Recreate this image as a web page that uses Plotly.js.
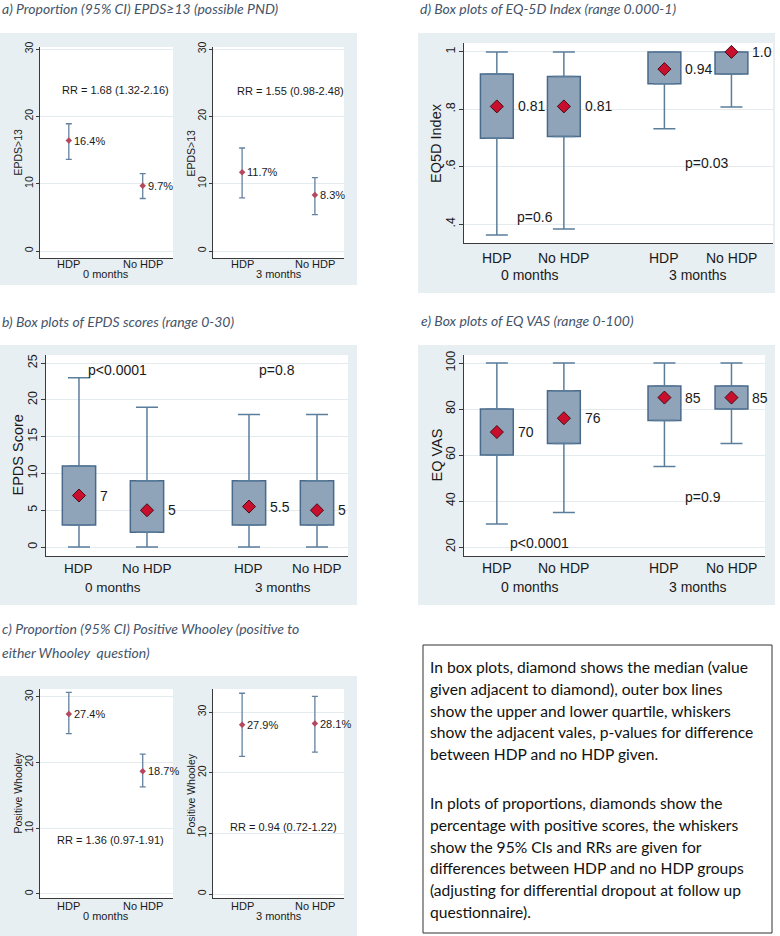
<!DOCTYPE html>
<html><head><meta charset="utf-8">
<script src="https://cdn.plot.ly/plotly-3.0.1.min.js"></script>
<style>html,body{margin:0;padding:0;background:#fff}#chart{width:780px;height:936px}</style>
</head><body><div id="chart"></div><script>
// ---------------- DATA ----------------
const groups = ['HDP', 'No HDP'];
const periods = ['0 months', '3 months'];

// a) Proportion EPDS>=13
const epds13_0m = [16.4, 9.7];
const epds13_0m_lo = [13.6, 7.8];
const epds13_0m_hi = [18.9, 11.5];
const epds13_3m = [11.7, 8.3];
const epds13_3m_lo = [7.9, 5.4];
const epds13_3m_hi = [15.3, 10.9];
const rr_epds13 = ['RR = 1.68 (1.32-2.16)', 'RR = 1.55 (0.98-2.48)'];

// c) Proportion positive Whooley
const whooley_0m = [27.4, 18.7];
const whooley_0m_lo = [24.4, 16.3];
const whooley_0m_hi = [30.7, 21.3];
const whooley_3m = [27.9, 28.1];
const whooley_3m_lo = [22.7, 23.4];
const whooley_3m_hi = [33.1, 32.6];
const rr_whooley = ['RR = 1.36 (0.97-1.91)', 'RR = 0.94 (0.72-1.22)'];

// box plots: order HDP 0m, No HDP 0m, HDP 3m, No HDP 3m
const boxGroups = ['HDP', 'No HDP', 'HDP', 'No HDP'];
const epds_min = [0, 0, 0, 0];
const epds_q1 = [3, 2, 3, 3];
const epds_med = [7, 5, 5.5, 5];
const epds_q3 = [11, 9, 9, 9];
const epds_max = [23, 19, 18, 18];
const epds_lbl = ['7', '5', '5.5', '5'];
const p_epds = ['p<0.0001', 'p=0.8'];

const eq5d_min = [0.362, 0.383, 0.732, 0.808];
const eq5d_q1 = [0.699, 0.705, 0.889, 0.923];
const eq5d_med = [0.81, 0.81, 0.94, 1.0];
const eq5d_q3 = [0.923, 0.914, 1.0, 1.0];
const eq5d_max = [1.0, 1.0, 1.0, 1.0];
const eq5d_lbl = ['0.81', '0.81', '0.94', '1.0'];
const p_eq5d = ['p=0.6', 'p=0.03'];

const vas_min = [30, 35, 55, 65];
const vas_q1 = [60, 65, 75, 80];
const vas_med = [70, 76, 85, 85];
const vas_q3 = [80, 88, 90, 90];
const vas_max = [100, 100, 100, 100];
const vas_lbl = ['70', '76', '85', '85'];
const p_vas = ['p<0.0001', 'p=0.9'];

const titles = {
  a: 'a) Proportion (95% CI) EPDS\u226513 (possible PND)',
  b: 'b) Box plots of EPDS scores (range 0-30)',
  c1: 'c) Proportion (95% CI) Positive Whooley (positive to',
  c2: 'either Whooley  question)',
  d: 'd) Box plots of EQ-5D Index (range 0.000-1)',
  e: 'e) Box plots of EQ VAS (range 0-100)'
};
const noteLines1 = [
  'In box plots, diamond shows the median (value',
  'given adjacent to diamond), outer box lines',
  'show the upper and lower quartile, whiskers',
  'show the adjacent vales, p-values for difference',
  'between HDP and no HDP given.'
];
const noteLines2 = [
  'In plots of proportions, diamonds show the',
  'percentage with positive scores, the whiskers',
  'show the 95% CIs and RRs are given for',
  'differences between HDP and no HDP groups',
  '(adjusting for differential dropout at follow up',
  'questionnaire).'
];

// ---------------- LAYOUT HELPERS ----------------
const W = 780, H = 936;
const F = 'Liberation Sans, Arial, sans-serif';
const TF = 'Lato, Calibri, sans-serif';
const TXT = '#1a1a1a';
const BG = '#e8eff2';
const GRID = '#e3ebef';
const px = v => v / W;
const py = v => 1 - v / H;

const traces = [];
const annotations = [];
const shapes = [];
const layout = {
  width: W, height: H, margin: {l: 0, r: 0, t: 0, b: 0},
  paper_bgcolor: '#ffffff', plot_bgcolor: '#ffffff',
  showlegend: false, hovermode: false, font: {family: F, color: TXT}
};

function bgRect(x0, x1, y0, y1, color) {
  shapes.push({type: 'rect', xref: 'paper', yref: 'paper', layer: 'below',
    x0: px(x0), x1: px(x1), y0: py(y1), y1: py(y0),
    fillcolor: color, line: {width: 0}});
}

function setupAxes(n, spec, xs, names) {
  const xk = n === 1 ? 'xaxis' : 'xaxis' + n;
  const yk = n === 1 ? 'yaxis' : 'yaxis' + n;
  const xa = n === 1 ? 'x' : 'x' + n, ya = n === 1 ? 'y' : 'y' + n;
  bgRect(spec.x[0], spec.x[1], spec.y[0], spec.y[1], '#ffffff');
  layout[xk] = {
    domain: [px(spec.x[0]), px(spec.x[1])], range: spec.xr, anchor: ya,
    showline: true, linecolor: '#3a3a3a', linewidth: 1, mirror: false,
    ticks: '', showgrid: false, zeroline: false, fixedrange: true,
    showticklabels: false, automargin: false
  };
  layout[yk] = {
    domain: [py(spec.y[1]), py(spec.y[0])], range: spec.yr, anchor: xa,
    showline: true, linecolor: '#3a3a3a', linewidth: 1, mirror: false,
    ticks: 'outside', ticklen: spec.tl, tickcolor: '#3a3a3a', tickangle: -90,
    ticklabelstandoff: -1,
    showgrid: true, gridcolor: GRID, gridwidth: 1, zeroline: false, fixedrange: true,
    tickvals: spec.ytv, ticktext: spec.ytt,
    tickfont: {family: F, size: spec.yfs, color: TXT}, automargin: false
  };
  // category labels under the x axis
  names.forEach((g, i) => annotations.push({
    xref: xa, yref: ya + ' domain', x: xs[i], y: 0, text: g, showarrow: false,
    xanchor: 'center', yanchor: 'middle', yshift: spec.tshift,
    font: {family: F, size: spec.xfs, color: TXT}
  }));
  // y axis title
  annotations.push({
    xref: xa + ' domain', yref: ya + ' domain', x: 0, y: 0.5, text: spec.ytitle, showarrow: false,
    textangle: -90, xanchor: 'center', yanchor: 'middle', xshift: spec.ytshift,
    font: {family: F, size: spec.ytfs, color: TXT}
  });
}

function propPanel(n, spec, vals, lo, hi, rr, rrPos, period) {
  const xa = n === 1 ? 'x' : 'x' + n, ya = n === 1 ? 'y' : 'y' + n;
  const xs = groups.map((g, i) => i);
  setupAxes(n, spec, xs, groups);
  traces.push({
    type: 'scatter', mode: 'markers', x: xs, y: vals, xaxis: xa, yaxis: ya,
    marker: {symbol: 'diamond', size: 5, color: '#b5485e'},
    error_y: {type: 'data', symmetric: false,
      array: vals.map((v, i) => hi[i] - v), arrayminus: vals.map((v, i) => v - lo[i]),
      color: '#6482a0', thickness: 1.3, width: 3}
  });
  vals.forEach((v, i) => annotations.push({
    xref: xa, yref: ya, x: xs[i], y: v, text: v.toFixed(1) + '%', showarrow: false,
    xanchor: 'left', yanchor: 'middle', xshift: 3,
    font: {family: F, size: 11, color: TXT}
  }));
  annotations.push({xref: xa, yref: ya, x: rrPos[0], y: rrPos[1], text: rr, showarrow: false,
    xanchor: 'center', yanchor: 'middle', font: {family: F, size: 11, color: TXT}});
  annotations.push({xref: xa, yref: ya + ' domain', x: 0.5, y: 0, text: period, showarrow: false,
    xanchor: 'center', yanchor: 'middle', yshift: spec.pshift, font: {family: F, size: 11, color: TXT}});
}

function boxPanel(n, spec, mins, q1, med, q3, maxs, lbls, pv, pPos, lblShift) {
  const xa = 'x' + n, ya = 'y' + n;
  const xs = boxGroups.map((g, i) => i + (i >= 2 ? 0.5 : 0));
  setupAxes(n, spec, xs, boxGroups);
  traces.push({
    type: 'bar', x: xs, base: q1, y: q3.map((v, i) => v - q1[i]), width: 0.49,
    xaxis: xa, yaxis: ya,
    marker: {color: '#8fa3b9', line: {color: '#4a6a8c', width: 1.5}}
  });
  traces.push({
    type: 'scatter', mode: 'markers', x: xs, y: q3, xaxis: xa, yaxis: ya,
    marker: {size: 1, color: 'rgba(0,0,0,0)'},
    error_y: {type: 'data', symmetric: false, array: maxs.map((v, i) => v - q3[i]),
      arrayminus: q3.map(() => 0), color: '#5b7d9c', thickness: 1.5, width: 11}
  });
  traces.push({
    type: 'scatter', mode: 'markers', x: xs, y: q1, xaxis: xa, yaxis: ya,
    marker: {size: 1, color: 'rgba(0,0,0,0)'},
    error_y: {type: 'data', symmetric: false, array: q1.map(() => 0),
      arrayminus: q1.map((v, i) => v - mins[i]), color: '#5b7d9c', thickness: 1.5, width: 11}
  });
  traces.push({
    type: 'scatter', mode: 'markers', x: xs, y: med, xaxis: xa, yaxis: ya,
    marker: {symbol: 'diamond', size: 10, color: '#c8102e', line: {color: '#4a0a12', width: 1}}
  });
  med.forEach((v, i) => annotations.push({
    xref: xa, yref: ya, x: xs[i], y: v, text: lbls[i], showarrow: false,
    xanchor: 'left', yanchor: 'middle', xshift: lblShift,
    font: {family: F, size: spec.lfs, color: TXT}
  }));
  pv.forEach((t, i) => annotations.push({
    xref: xa, yref: ya, x: pPos[i][0], y: pPos[i][1], text: t, showarrow: false,
    xanchor: 'center', yanchor: 'middle', font: {family: F, size: spec.lfs, color: TXT}
  }));
  periods.forEach((p, i) => annotations.push({
    xref: xa, yref: ya + ' domain', x: i === 0 ? 0.5 : 3.0, y: 0, text: p, showarrow: false,
    xanchor: 'center', yanchor: 'middle', yshift: spec.pshift,
    font: {family: F, size: spec.xfs, color: TXT}
  }));
}

// panel backgrounds
bgRect(0, 357, 33, 285, BG);
bgRect(0, 357, 345, 605, BG);
bgRect(0, 357, 676, 936, BG);
bgRect(418, 775, 33, 293, BG);
bgRect(418, 775, 345, 605, BG);

const propA = {xfs: 11, yfs: 10.5, ytfs: 10.5, tl: 3, tshift: -5.5, pshift: -15.5, ytshift: -23};
const propC = {xfs: 11, yfs: 10.5, ytfs: 10.5, tl: 3, tshift: -8, pshift: -18, ytshift: -23};

propPanel(1, Object.assign({x: [40, 173], y: [47, 258], xr: [-0.39, 1.41], yr: [-1.04, 30.3],
  ytv: [0, 10, 20, 30], ytitle: 'EPDS>13'}, propA),
  epds13_0m, epds13_0m_lo, epds13_0m_hi, rr_epds13[0], [0.635, 23.9], periods[0]);
propPanel(2, Object.assign({x: [213, 344], y: [47, 258], xr: [-0.40, 1.40], yr: [-1.04, 30.3],
  ytv: [0, 10, 20, 30], ytitle: 'EPDS>13'}, propA),
  epds13_3m, epds13_3m_lo, epds13_3m_hi, rr_epds13[1], [0.66, 23.8], periods[1]);
propPanel(4, Object.assign({x: [40, 173], y: [689, 898], xr: [-0.39, 1.41], yr: [-0.61, 31.2],
  ytv: [0, 10, 20, 30], ytitle: 'Positive Whooley'}, propC),
  whooley_0m, whooley_0m_lo, whooley_0m_hi, rr_whooley[0], [0.57, 8.2], periods[0]);
propPanel(5, Object.assign({x: [213, 344], y: [689, 898], xr: [-0.40, 1.40], yr: [-0.66, 33.8],
  ytv: [0, 10, 20, 30], ytitle: 'Positive Whooley'}, propC),
  whooley_3m, whooley_3m_lo, whooley_3m_hi, rr_whooley[1], [0.575, 11.0], periods[1]);

boxPanel(3, {x: [46, 348], y: [355, 556], xr: [-0.485, 3.956], yr: [-1.22, 26.1],
  ytv: [0, 5, 10, 15, 20, 25], ytitle: 'EPDS Score', xfs: 13.5, yfs: 12.5, ytfs: 14.5, tl: 4,
  ytshift: -29, tshift: -12, pshift: -31, lfs: 14},
  epds_min, epds_q1, epds_med, epds_q3, epds_max, epds_lbl, p_epds, [[0.56, 24.0], [2.91, 24.0]], 19);
boxPanel(6, {x: [464, 773], y: [43, 243], xr: [-0.49, 4.12], yr: [0.334, 1.031],
  ytv: [0.4, 0.6, 0.8, 1], ytt: ['.4', '.6', '.8', '1'], ytitle: 'EQ5D Index', xfs: 14, yfs: 12.5, ytfs: 14.5, tl: 4,
  ytshift: -28, tshift: -14.5, pshift: -32, lfs: 14},
  eq5d_min, eq5d_q1, eq5d_med, eq5d_q3, eq5d_max, eq5d_lbl, p_eq5d, [[0.57, 0.425], [3.13, 0.613]], 19);
boxPanel(7, {x: [464, 765], y: [355, 556], xr: [-0.49, 4.0], yr: [16.1, 103.5],
  ytv: [20, 40, 60, 80, 100], ytitle: 'EQ VAS', xfs: 14, yfs: 12.5, ytfs: 14.5, tl: 4,
  ytshift: -28, tshift: -11.5, pshift: -31, lfs: 14},
  vas_min, vas_q1, vas_med, vas_q3, vas_max, vas_lbl, p_vas, [[0.63, 21.7], [3.07, 41.7]], 19);

// panel titles
function title(text, x, y) {
  annotations.push({xref: 'paper', yref: 'paper', x: px(x), y: py(y), text: text, showarrow: false,
    xanchor: 'left', yanchor: 'middle',
    font: {family: TF, size: 14, color: '#44546a', style: 'italic'}});
}
title(titles.a, 0, 9);
title(titles.d, 418, 9);
title(titles.b, 0, 321);
title(titles.e, 419, 320);
title(titles.c1, 0, 628);
title(titles.c2, 0, 652);

// note box
shapes.push({type: 'rect', xref: 'paper', yref: 'paper', layer: 'above',
  x0: px(423), x1: px(772), y0: py(933), y1: py(645), line: {color: '#333333', width: 1}});
function noteLine(t, y) {
  annotations.push({xref: 'paper', yref: 'paper', x: px(428), y: py(y), text: t, showarrow: false,
    xanchor: 'left', yanchor: 'middle', font: {family: TF, size: 15.6, color: '#111111'}});
}
noteLines1.forEach((t, i) => noteLine(t, 667 + 21.75 * i));
noteLines2.forEach((t, i) => noteLine(t, 803 + 21.75 * i));

layout.annotations = annotations;
layout.shapes = shapes;
Plotly.newPlot('chart', traces, layout, {staticPlot: true, displayModeBar: false});
</script></body></html>
